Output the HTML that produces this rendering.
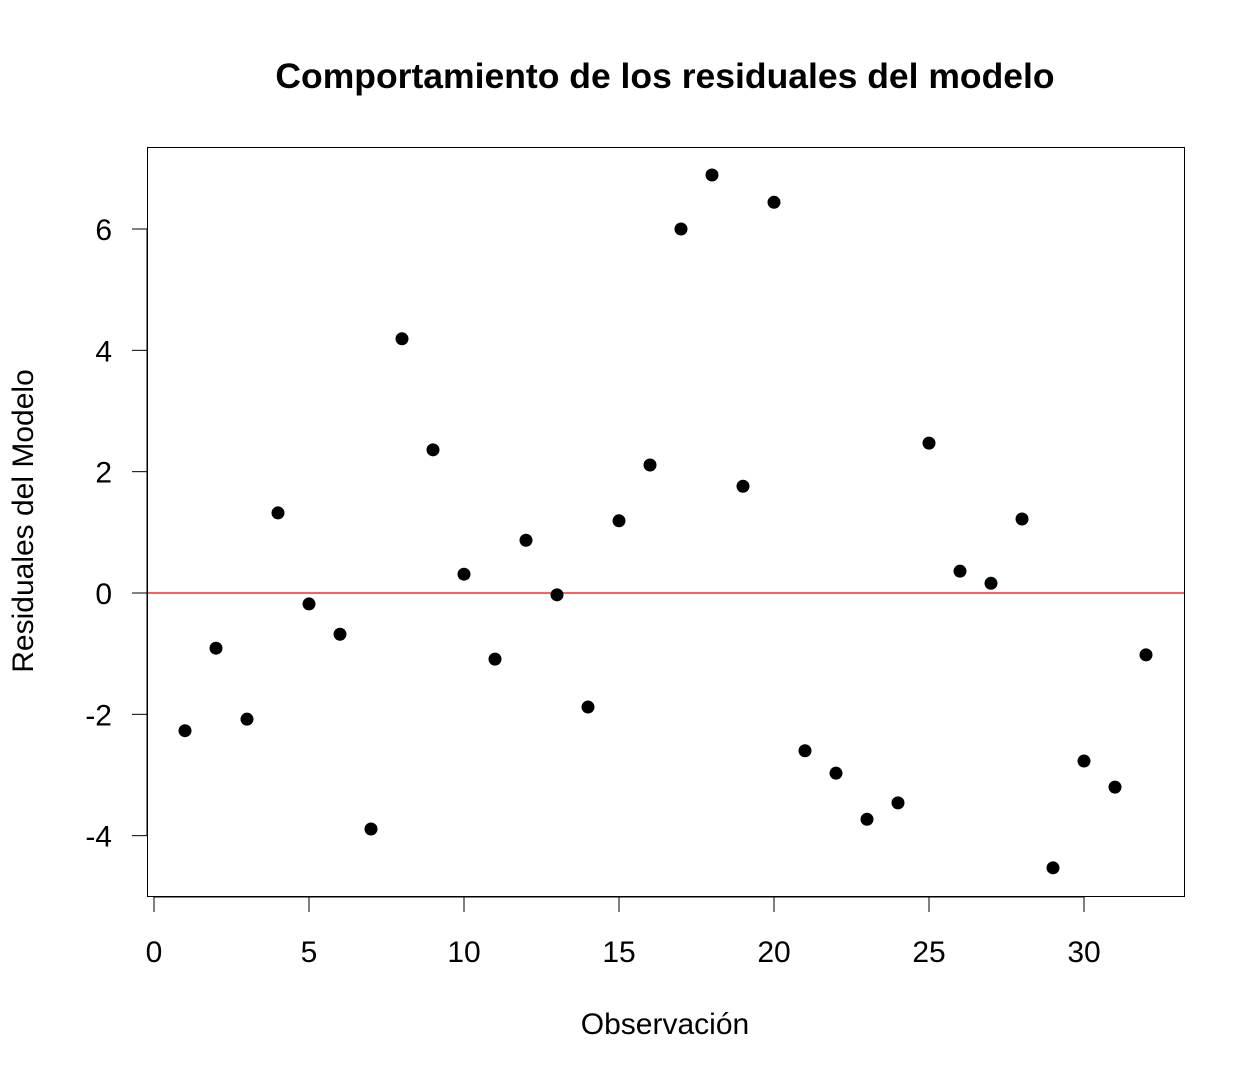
<!DOCTYPE html>
<html><head><meta charset="utf-8"><style>
body{margin:0;background:#fff}
svg text{font-family:"Liberation Sans",Arial,sans-serif}
</style></head><body>
<svg id="chart" width="1260" height="1080" xmlns="http://www.w3.org/2000/svg">
<rect width="1260" height="1080" fill="#fff"/>
<text x="665" y="88" text-anchor="middle" font-size="35.5" font-weight="bold">Comportamiento de los residuales del modelo</text>
<rect x="147.5" y="147.5" width="1037" height="749" fill="none" stroke="#000" stroke-width="1"/>
<g id="xaxis"></g>
<g id="yaxis"></g>
<line id="zero" stroke="#ff0000" stroke-width="1.2"/>
<g id="points"></g>
<text x="665" y="1034" text-anchor="middle" font-size="30">Observación</text>
<text transform="translate(33,521) rotate(-90)" text-anchor="middle" font-size="30">Residuales del Modelo</text>
</svg>
<script>
const observations=[1,2,3,4,5,6,7,8,9,10,11,12,13,14,15,16,17,18,19,20,21,22,23,24,25,26,27,28,29,30,31,32];
const residuals=[-2.27,-0.91,-2.08,1.32,-0.18,-0.68,-3.89,4.19,2.36,0.31,-1.09,0.87,-0.03,-1.88,1.19,2.11,6.0,6.89,1.76,6.44,-2.60,-2.97,-3.73,-3.46,2.47,0.36,0.16,1.22,-4.53,-2.77,-3.20,-1.02];
const xTicks=[0,5,10,15,20,25,30];
const yTicks=[-4,-2,0,2,4,6];
const X=v=>154+v*31;
const Y=v=>593-v*60.667;
const NS="http://www.w3.org/2000/svg";
function mk(tag,attrs,parent){const e=document.createElementNS(NS,tag);for(const k in attrs)e.setAttribute(k,attrs[k]);parent.appendChild(e);return e;}
const xa=document.getElementById('xaxis'),ya=document.getElementById('yaxis');
mk('line',{x1:X(0),x2:X(30),y1:897,y2:897,stroke:'#000'},xa);
xTicks.forEach(t=>{
 const l=mk('line',{x1:X(t),x2:X(t),y1:897,y2:912,stroke:'#000'},xa);
 
 
 const tx=mk('text',{x:X(t),y:962,'text-anchor':'middle','font-size':30},xa);tx.textContent=t;
 
 
});
mk('line',{x1:147,x2:147,y1:Y(-4),y2:Y(6),stroke:'#000'},ya);
yTicks.forEach(t=>{
 const l=mk('line',{x1:132,x2:147,y1:Y(t),y2:Y(t),stroke:'#000'},ya);
 
 
 const tx=mk('text',{x:112,y:Y(t)+11,'text-anchor':'end','font-size':30},ya);tx.textContent=t;
 
 
});
const z=document.getElementById('zero');
z.setAttribute('x1',148);z.setAttribute('x2',1184);z.setAttribute('y1',Y(0));z.setAttribute('y2',Y(0));
const pg=document.getElementById('points');
observations.forEach((o,i)=>{
 const c=mk('circle',{cx:X(o),cy:Y(residuals[i]),r:6.5,fill:'#000'},pg);
 
 
});
</script>
</body></html>
